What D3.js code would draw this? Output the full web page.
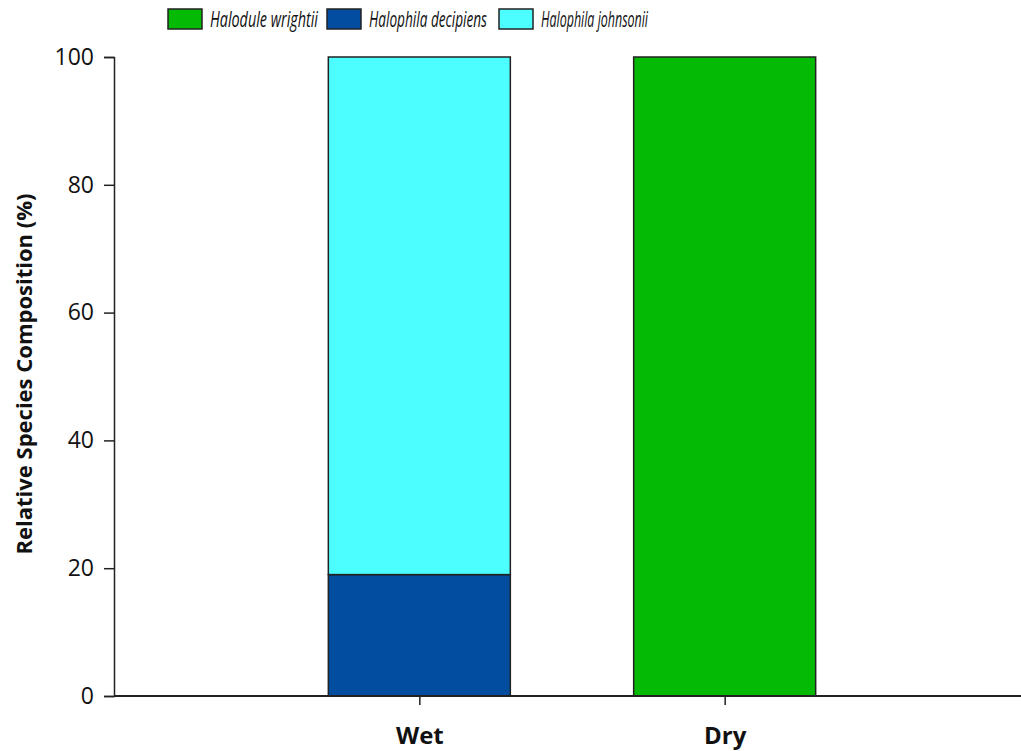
<!DOCTYPE html>
<html><head><meta charset="utf-8">
<script src="https://cdn.jsdelivr.net/npm/d3@7"></script>
<style>body{margin:0;background:#fff}</style>
</head><body>
<svg id="c" width="1021" height="751"></svg>
<script>
const categories = ["Wet", "Dry"];
const species = ["Halodule wrightii", "Halophila decipiens", "Halophila johnsonii"];
const wrightii = [0, 100];
const decipiens = [19, 0];
const johnsonii = [81, 0];
const yTicks = [0, 20, 40, 60, 80, 100];
const colors = ["#05BA05", "#034DA0", "#4CFEFF"];

const svg = d3.select("#c");
const x = d3.scalePoint().domain(categories).range([114, 1030]).padding(1);
const y = d3.scaleLinear().domain([0, 100]).range([696, 57]);
const barW = 182;

const rows = categories.map((c, i) => ({cat: c, "Halophila decipiens": decipiens[i], "Halophila johnsonii": johnsonii[i], "Halodule wrightii": wrightii[i]}));
const stackOrder = ["Halophila decipiens", "Halophila johnsonii", "Halodule wrightii"];
const stacked = d3.stack().keys(stackOrder)(rows);
const color = d3.scaleOrdinal().domain(species).range(colors);

stacked.forEach(layer => {
  svg.append("g").selectAll("rect").data(layer.filter(d => d[1] - d[0] > 0)).join("rect")
    .attr("x", d => x(d.data.cat) - barW / 2)
    .attr("width", barW)
    .attr("y", d => y(d[1]))
    .attr("height", d => y(d[0]) - y(d[1]))
    .attr("fill", color(layer.key))
    .attr("stroke", "#222").attr("stroke-width", 1.5);
});

// y axis
const ya = svg.append("g").attr("transform", "translate(114,0)")
  .call(d3.axisLeft(y).tickValues(yTicks).tickSize(10).tickPadding(10));
ya.select(".domain").attr("stroke", "#222").attr("stroke-width", 1.5);
ya.selectAll(".tick line").attr("stroke", "#222").attr("stroke-width", 1.5);
ya.selectAll("text").style("font-family", "'Open Sans', sans-serif").style("font-size", "23px").attr("fill", "#111");

// x axis
const xa = svg.append("g").attr("transform", "translate(0,696)")
  .call(d3.axisBottom(x).tickSize(9).tickPadding(22).tickSizeOuter(0));
xa.select(".domain").attr("d", "M114,0H1021").attr("stroke", "#222").attr("stroke-width", 1.8);
xa.selectAll(".tick line").attr("stroke", "#222").attr("stroke-width", 1.5);
xa.selectAll("text").style("font-family", "'Open Sans', sans-serif").style("font-weight", "bold").style("font-size", "24px").attr("fill", "#111");

// y title
svg.append("text").attr("transform", "translate(32,374) rotate(-90)")
  .attr("text-anchor", "middle")
  .style("font-family", "'Open Sans', sans-serif").style("font-weight", "bold").style("font-size", "22px").attr("fill", "#111")
  .text("Relative Species Composition (%)");

// legend
const legX = [168, 327, 499];
const legW = [108, 118, 107];
const lg = svg.append("g");
species.forEach((s, i) => {
  lg.append("rect").attr("x", legX[i]).attr("y", 9).attr("width", 34).attr("height", 20)
    .attr("fill", colors[i]).attr("stroke", "#222").attr("stroke-width", 1.5);
  lg.append("text").attr("x", legX[i] + 42).attr("y", 27)
    .attr("textLength", legW[i]).attr("lengthAdjust", "spacingAndGlyphs")
    .style("font-family", "'Open Sans', sans-serif").style("font-style", "italic").style("font-size", "22px").attr("fill", "#111")
    .text(s);
});
</script>
</body></html>
